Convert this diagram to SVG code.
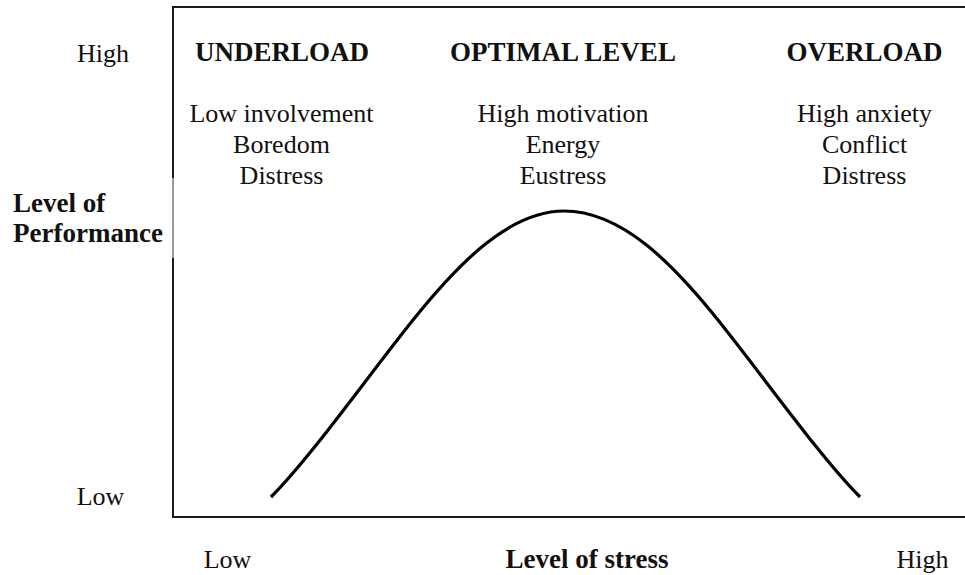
<svg xmlns="http://www.w3.org/2000/svg" width="965" height="575" viewBox="0 0 965 575">
  <style>
    text { font-family: "Liberation Serif", "DejaVu Serif", serif; fill: #111; }
    .reg { font-size: 26px; }
    .bold { font-size: 27px; font-weight: bold; }
    .mid { text-anchor: middle; }
    .axis { stroke: #1a1a1a; stroke-width: 2; fill: none; }
    .curve { stroke: #000; stroke-width: 3.2; fill: none; stroke-linecap: butt; }
  </style>
  <rect width="965" height="575" fill="#fff"/>

  <!-- chart frame: left axis, top rule, bottom axis -->
  <g id="axes">
    <line class="axis" x1="173" y1="7" x2="965" y2="7"/>
    <line class="axis" x1="173" y1="6" x2="173" y2="178"/>
    <line x1="173" y1="178" x2="173" y2="258" stroke="#9a9a9a" stroke-width="2"/>
    <line class="axis" x1="173" y1="258" x2="173" y2="518"/>
    <line class="axis" x1="172" y1="517" x2="965" y2="517" stroke-width="2.5"/>
  </g>

  <!-- performance curve: rises from low stress to a peak, then falls -->
  <g id="connectors">
    <path class="curve" d="M271,497 C311,457 368,376 413,320 C458,264 509,211 564,211 C622,211 673,264 718,320 C763,376 820,457 860,497"/>
  </g>

  <!-- vertical axis labels -->
  <g id="y-axis-labels">
    <text class="reg mid" x="103" y="62">High</text>
    <text class="reg mid" x="100.5" y="505">Low</text>
    <text class="bold" x="13" y="212">Level of</text>
    <text class="bold" x="13" y="242">Performance</text>
  </g>

  <!-- horizontal axis labels -->
  <g id="x-axis-labels">
    <text class="reg mid" x="227.5" y="568">Low</text>
    <text class="bold mid" x="587" y="568">Level of stress</text>
    <text class="reg mid" x="922.5" y="568">High</text>
  </g>

  <g id="underload">
    <text class="bold mid" x="282" y="61">UNDERLOAD</text>
    <text class="reg mid" x="281.5" y="122">Low involvement</text>
    <text class="reg mid" x="281.5" y="153">Boredom</text>
    <text class="reg mid" x="281.5" y="184">Distress</text>
  </g>

  <g id="optimal-level">
    <text class="bold mid" x="563" y="61">OPTIMAL LEVEL</text>
    <text class="reg mid" x="563" y="122">High motivation</text>
    <text class="reg mid" x="563" y="153">Energy</text>
    <text class="reg mid" x="563" y="184">Eustress</text>
  </g>

  <g id="overload">
    <text class="bold mid" x="864.5" y="61">OVERLOAD</text>
    <text class="reg mid" x="864.5" y="122">High anxiety</text>
    <text class="reg mid" x="864.5" y="153">Conflict</text>
    <text class="reg mid" x="864.5" y="184">Distress</text>
  </g>
</svg>
